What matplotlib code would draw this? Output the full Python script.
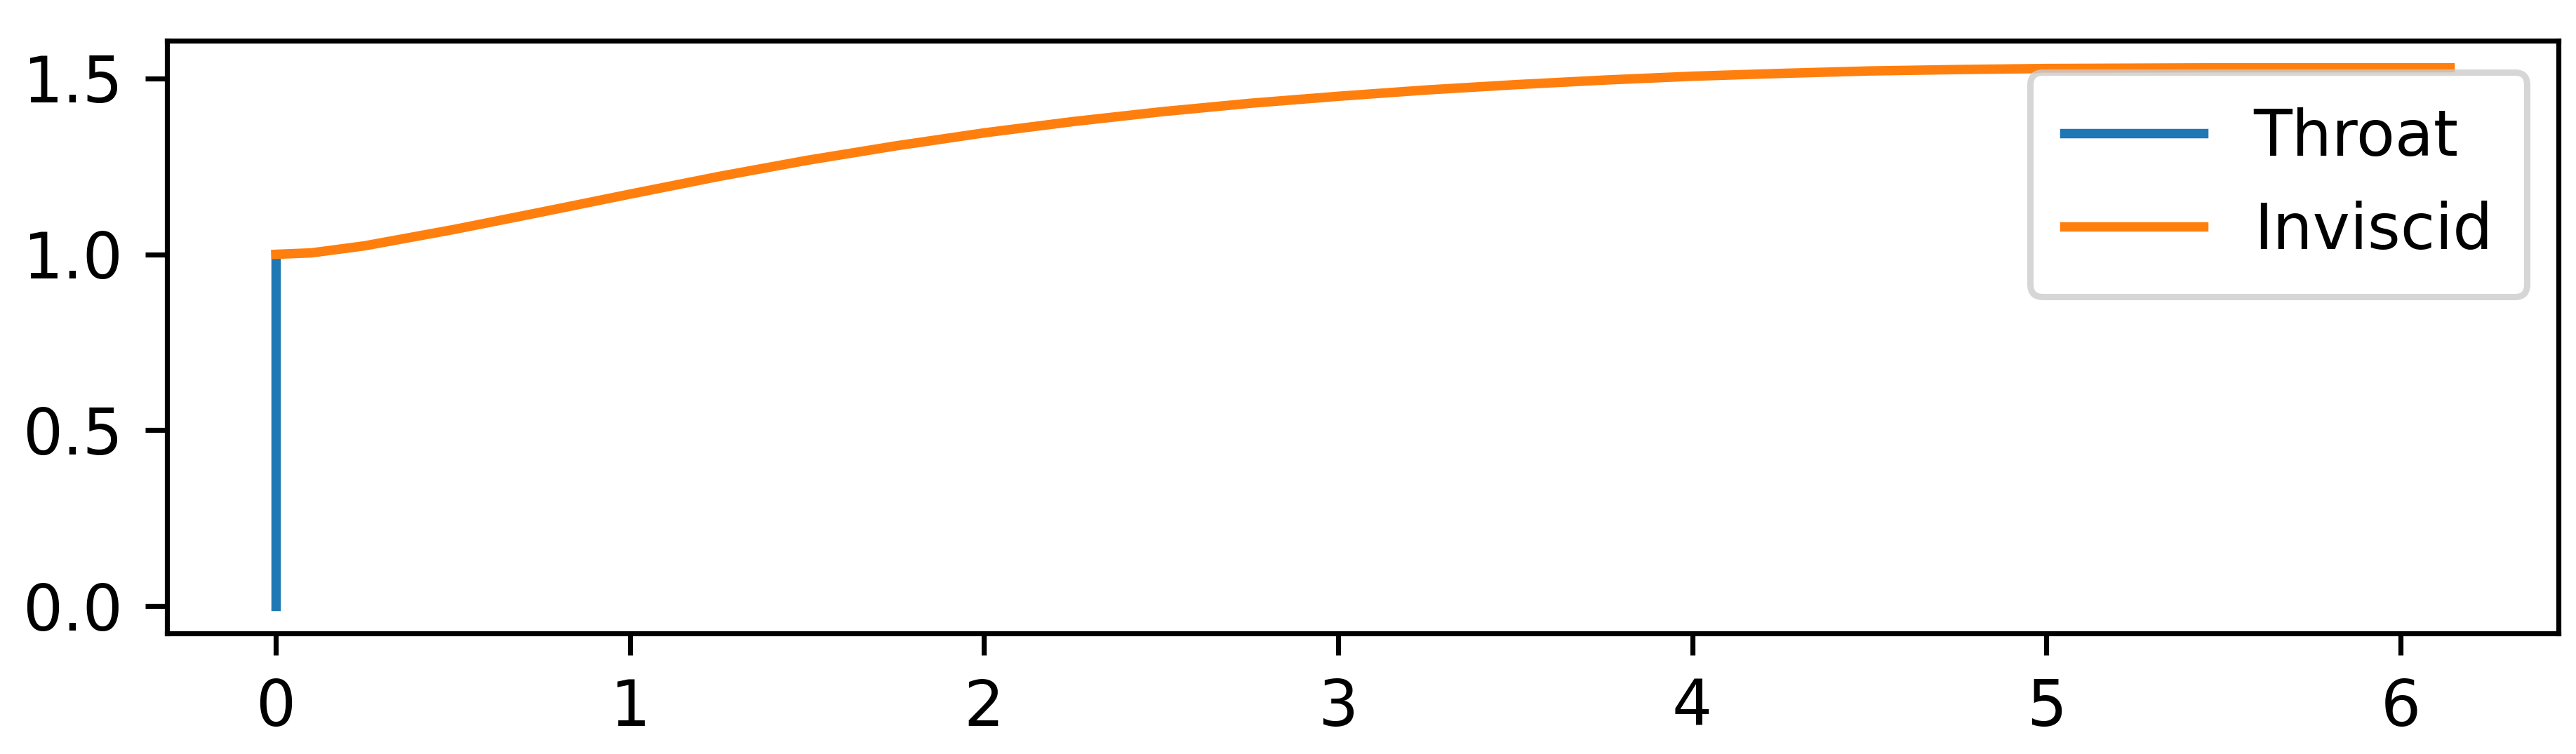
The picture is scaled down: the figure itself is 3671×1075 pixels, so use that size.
import numpy as np
import matplotlib
matplotlib.use("Agg")
import matplotlib.pyplot as plt

# throat line: vertical at x = 0
throat_x = [0.0, 0.0]
throat_y = [0.0, 1.0]

# inviscid wall contour
inviscid_x = [0.0, 0.1, 0.25, 0.5, 0.75, 1.0, 1.25, 1.5, 1.75, 2.0, 2.25,
              2.5, 2.75, 3.0, 3.25, 3.5, 3.75, 4.0, 4.25, 4.5, 4.75, 5.0,
              5.5, 6.14]
inviscid_y = [1.000, 1.004, 1.024, 1.070, 1.120, 1.171, 1.221, 1.267, 1.308,
              1.345, 1.377, 1.405, 1.429, 1.449, 1.467, 1.482, 1.495, 1.506,
              1.514, 1.521, 1.525, 1.528, 1.530, 1.530]

dpi = 647
fig = plt.figure(figsize=(3671 / dpi, 1075 / dpi), dpi=dpi)
ax = fig.add_axes([0.0649, 0.1603, 0.9284, 0.7855])

ax.plot(throat_x, throat_y, label="Throat")
ax.plot(inviscid_x, inviscid_y, label="Inviscid")

ax.set_yticks([0.0, 0.5, 1.0, 1.5])
ax.legend(loc="upper right", borderpad=0.55, handlelength=2.2)

fig.savefig("out.png", dpi=dpi)
